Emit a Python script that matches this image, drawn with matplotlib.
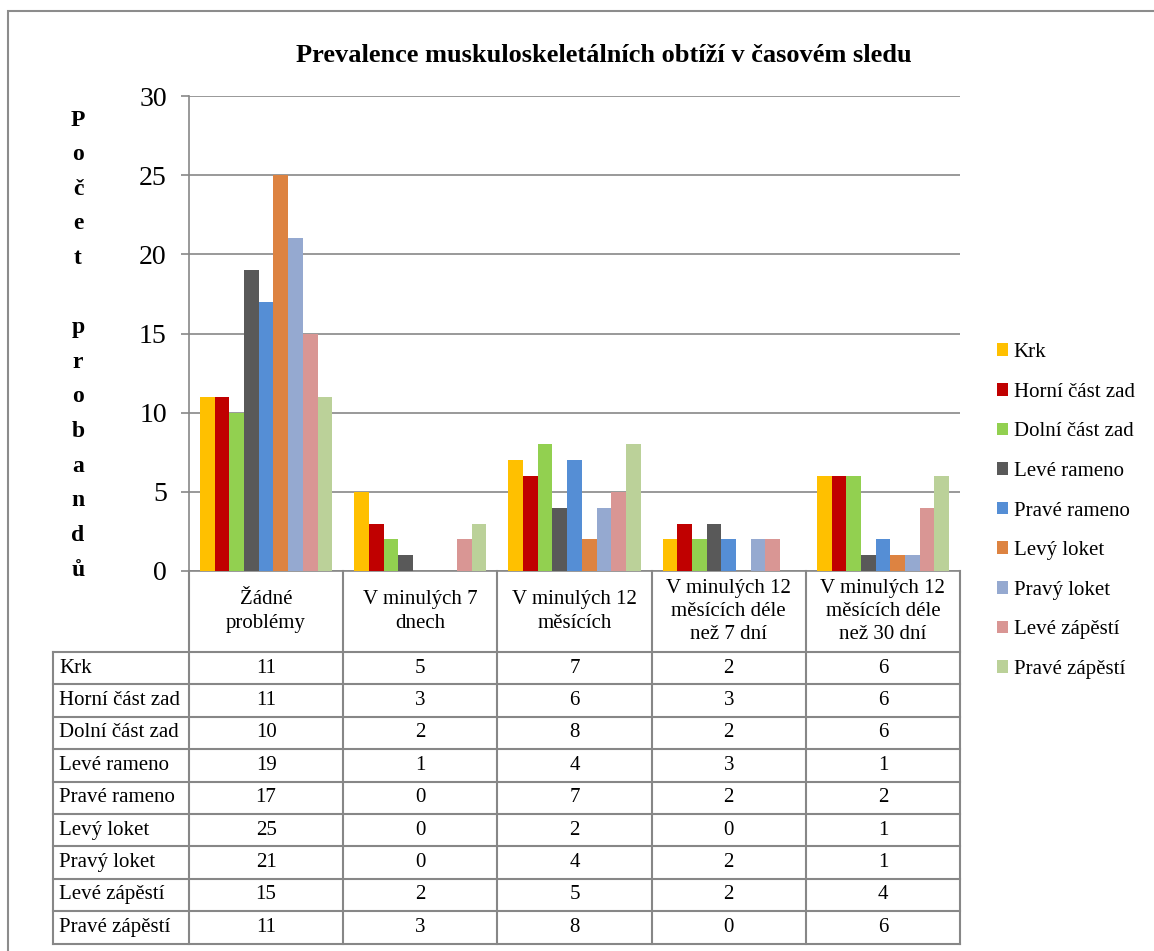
import numpy as np
import matplotlib.pyplot as plt
from matplotlib.patches import Rectangle, Patch
from matplotlib.transforms import blended_transform_factory

plt.rcParams['font.family'] = ['Liberation Serif', 'DejaVu Serif']

# Data
categories = ["Žádné\nproblémy", "V minulých 7\ndnech", "V minulých 12\nměsících",
              "V minulých 12\nměsících déle\nnež 7 dní", "V minulých 12\nměsících déle\nnež 30 dní"]
series_names = ["Krk", "Horní část zad", "Dolní část zad", "Levé rameno", "Pravé rameno",
                "Levý loket", "Pravý loket", "Levé zápěstí", "Pravé zápěstí"]
krk = [11, 5, 7, 2, 6]
horni_zada = [11, 3, 6, 3, 6]
dolni_zada = [10, 2, 8, 2, 6]
leve_rameno = [19, 1, 4, 3, 1]
prave_rameno = [17, 0, 7, 2, 2]
levy_loket = [25, 0, 2, 0, 1]
pravy_loket = [21, 0, 4, 2, 1]
leve_zapesti = [15, 2, 5, 2, 4]
prave_zapesti = [11, 3, 8, 0, 6]
values = [krk, horni_zada, dolni_zada, leve_rameno, prave_rameno,
          levy_loket, pravy_loket, leve_zapesti, prave_zapesti]
colors = ["#FFC000", "#C00000", "#92D050", "#595959", "#558ED5",
          "#DD8341", "#95A9D0", "#D99694", "#BBD199"]

W, H = 1154, 951
grey = "#878787"
fs = 15

fig = plt.figure(figsize=(W / 100, H / 100), dpi=100)
# plot area in pixel layout: x 189..960, y 96..571
ax = fig.add_axes([189 / W, 1 - 571 / H, (960 - 189) / W, (571 - 96) / H])

x = np.arange(len(categories))
n = len(values)
w = 1 / (n + 1.5)  # gap width 150 %
for i, (vals, c, name) in enumerate(zip(values, colors, series_names)):
    ax.bar(x + (i - (n - 1) / 2) * w, vals, width=w, color=c, label=name, zorder=3)

ax.set_xlim(-0.5, len(categories) - 0.5)
ax.set_ylim(0, 30)
ax.set_yticks(range(0, 31, 5))
ax.yaxis.grid(True, color=grey, lw=1.2, zorder=0)
ax.set_xticks([])
for s in ["top", "right"]:
    ax.spines[s].set_visible(False)
for s in ["left", "bottom"]:
    ax.spines[s].set_color(grey)
    ax.spines[s].set_linewidth(1.2)
ax.tick_params(axis='y', direction='out', length=6, width=1.2, color=grey,
               labelsize=20, pad=10)

# data table below the plot
tr = blended_transform_factory(ax.transData, ax.transAxes)
ax_h = 571 - 96
header_bot = -(652 - 571) / ax_h
row_h = (943.5 - 652) / len(series_names) / ax_h
table_bot = header_bot - row_h * len(series_names)
label_left = -0.5 - (189 - 53) / 154

line_kw = dict(color=grey, lw=1.5, transform=tr, clip_on=False, zorder=5)
# vertical lines
for xb in np.arange(-0.5, len(categories), 1.0):
    ax.plot([xb, xb], [0, table_bot], **line_kw)
ax.plot([label_left, label_left], [header_bot, table_bot], **line_kw)
# horizontal lines
for k in range(len(series_names) + 1):
    yb = header_bot - k * row_h
    ax.plot([label_left, len(categories) - 0.5], [yb, yb], **line_kw)

for j, cat in enumerate(categories):
    ax.text(j, header_bot / 2, cat, transform=tr, ha='center', va='center',
            fontsize=fs, linespacing=1.3)
for k, (name, vals) in enumerate(zip(series_names, values)):
    yc = header_bot - (k + 0.5) * row_h
    ax.text(label_left + 0.04, yc, name, transform=tr, ha='left', va='center', fontsize=fs)
    for j, v in enumerate(vals):
        ax.text(j, yc, str(v), transform=tr, ha='center', va='center', fontsize=fs)

# title
fig.text(604 / W, 1 - 55 / H, "Prevalence muskuloskeletálních obtíží v časovém sledu",
         ha='center', va='center', fontsize=19, fontweight='bold')

# vertical y-axis label, one letter per line
label = "Počet probandů"
for ch, yp in zip(label, np.linspace(120, 570, len(label))):
    fig.text(78 / W, 1 - yp / H, ch, ha='center', va='center', fontsize=17, fontweight='bold')

# legend
handles = [Patch(facecolor=c, label=nm) for c, nm in zip(colors, series_names)]
fig.legend(handles=handles, loc='center left', bbox_to_anchor=(997 / W, 1 - 511 / H),
           frameon=False, fontsize=fs, handlelength=0.55, handleheight=0.55,
           handletextpad=0.25, labelspacing=0.99, borderpad=0, borderaxespad=0)

# outer chart frame
fig.add_artist(Rectangle((8 / W, -0.05), 1.2, 1 - 11 / H + 0.05, fill=False,
                         ec="#8c8c8c", lw=1.5, transform=fig.transFigure))

fig.savefig("out.png", dpi=100)
